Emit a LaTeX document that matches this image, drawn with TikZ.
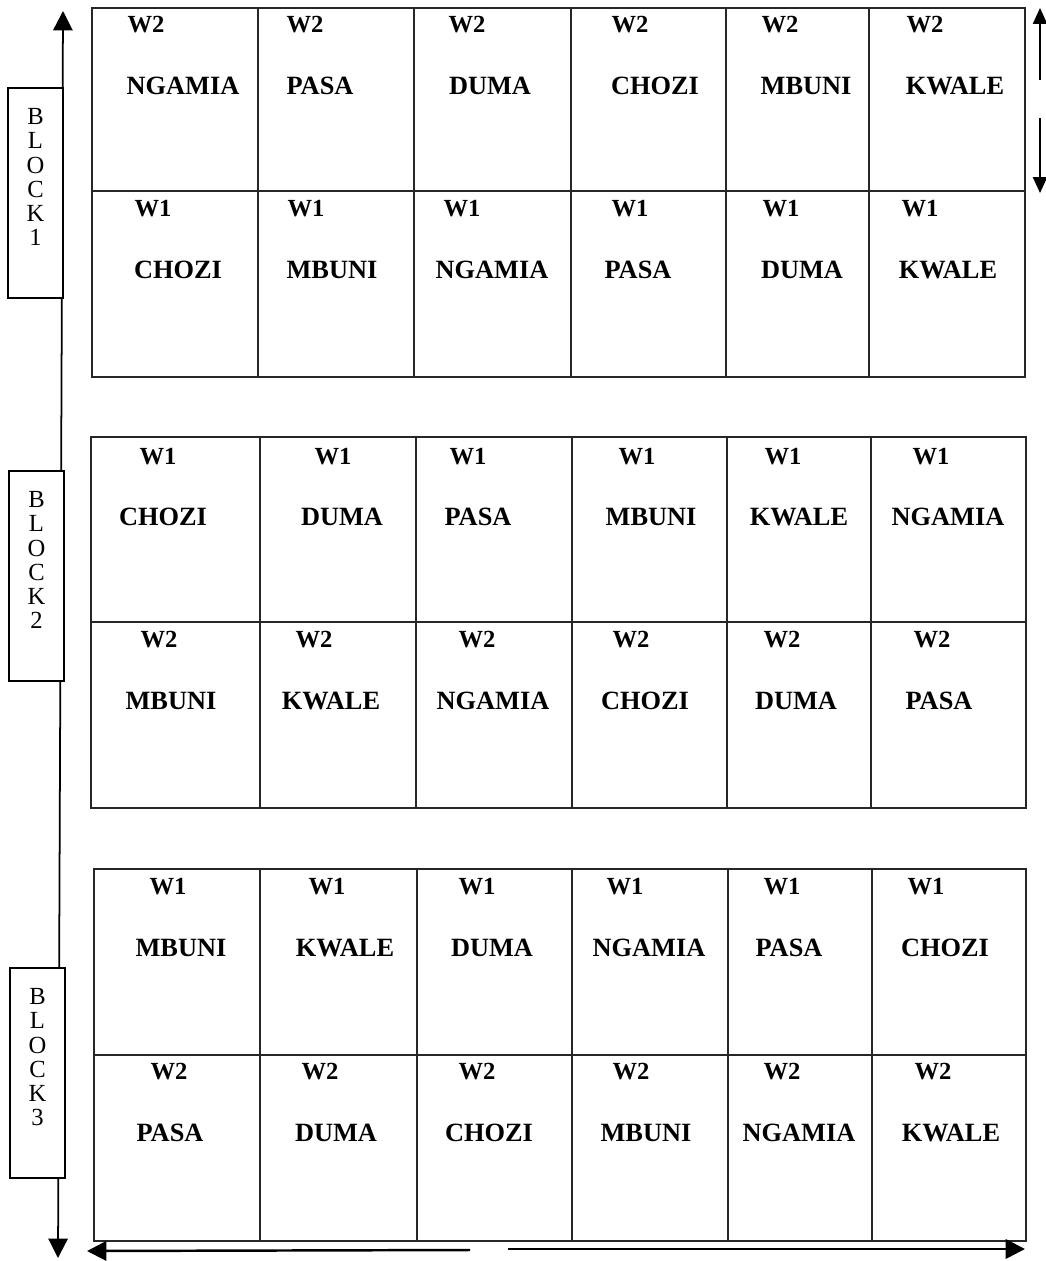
\documentclass[tikz,border=0pt]{standalone}
\usepackage{fontspec}
\setmainfont{Liberation Serif}
\usepackage{tikz}
\usetikzlibrary{arrows.meta, positioning}

\begin{document}
\begin{tikzpicture}[
        x=0.02cm, y=-0.02cm,
        grid/.style={draw=black!85, line width=0.6pt},
        wlabel/.style={font=\fontsize{14}{16}\selectfont\bfseries, inner sep=0pt},
        plot/.style={font=\fontsize{15}{17}\selectfont\bfseries, inner sep=0pt},
        blockbox/.style={draw, line width=0.8pt, fill=white, minimum width=1.1cm,
                     minimum height=4.2cm, inner sep=0pt},
        blocktext/.style={align=center, inner sep=0pt, font=\fontsize{14}{13.8}\selectfont},
        arr/.style={-{Triangle[width=11pt,length=11pt]}, line width=1pt},
        twoarr/.style={{Triangle[width=11pt,length=11pt]}-{Triangle[width=11pt,length=11pt]}, line width=1pt},
        smallarr/.style={-{Triangle[width=8pt,length=9pt]}, line width=1pt}
      ]
      \useasboundingbox (0,0) rectangle (1045,1261);

      % Raster der drei Bloecke
      \draw[grid] (92,8) rectangle (1025,377);
      \draw[grid] (92,191) -- (1025,191);
      \foreach \x in {258,414,571,726,869} \draw[grid] (\x,8) -- (\x,377);

      \draw[grid] (91,437) rectangle (1026,808);
      \draw[grid] (91,622) -- (1026,622);
      \foreach \x in {260,416,572,727,871} \draw[grid] (\x,437) -- (\x,808);

      \draw[grid] (94,869) rectangle (1026,1241);
      \draw[grid] (94,1055) -- (1026,1055);
      \foreach \x in {260,417,572,728,872} \draw[grid] (\x,869) -- (\x,1241);

      % Block 1
      \foreach \wx/\nx/\name [count=\i] in {146/183/NGAMIA, 305/320/PASA, 467/490/DUMA,
                                            630/655/CHOZI, 780/806/MBUNI, 925/955/KWALE} {
        \node[wlabel] (a-w\i) at (\wx,25) {W2};
        \node[plot]   (a-p\i) at (\nx,86) {\name};
      }
      \foreach \wx/\nx/\name [count=\i] in {153/178/CHOZI, 306/332/MBUNI, 462/492/NGAMIA,
                                            630/638/PASA, 781/802/DUMA, 920/948/KWALE} {
        \node[wlabel] (b-w\i) at (\wx,209) {W1};
        \node[plot]   (b-p\i) at (\nx,270) {\name};
      }

      % Block 2
      \foreach \wx/\nx/\name [count=\i] in {158/163/CHOZI, 333/342/DUMA, 468/478/PASA,
                                            637/651/MBUNI, 783/799/KWALE, 931/948/NGAMIA} {
        \node[wlabel] (c-w\i) at (\wx,457) {W1};
        \node[plot]   (c-p\i) at (\nx,517) {\name};
      }
      \foreach \wx/\nx/\name [count=\i] in {159/171/MBUNI, 314/331/KWALE, 477/493/NGAMIA,
                                            631/645/CHOZI, 782/796/DUMA, 932/939/PASA} {
        \node[wlabel] (d-w\i) at (\wx,640) {W2};
        \node[plot]   (d-p\i) at (\nx,701) {\name};
      }

      % Block 3
      \foreach \wx/\nx/\name [count=\i] in {168/181/MBUNI, 327/345/KWALE, 477/492/DUMA,
                                            625/649/NGAMIA, 782/789/PASA, 926/945/CHOZI} {
        \node[wlabel] (e-w\i) at (\wx,887) {W1};
        \node[plot]   (e-p\i) at (\nx,948) {\name};
      }
      \foreach \wx/\nx/\name [count=\i] in {169/170/PASA, 320/336/DUMA, 477/489/CHOZI,
                                            631/646/MBUNI, 782/799/NGAMIA, 933/951/KWALE} {
        \node[wlabel] (f-w\i) at (\wx,1072) {W2};
        \node[plot]   (f-p\i) at (\nx,1133) {\name};
      }

      % Pfeile
      \coordinate (vtop) at (63,11);
      \coordinate (vbot) at (58,1258);
      \draw[twoarr] (vbot) -- (vtop);

      \coordinate (rup) at (1040,8);
      \coordinate (rupend) at (1040,80);
      \coordinate (rdown) at (1040,193);
      \coordinate (rdownend) at (1040,118);
      \draw[smallarr] (rupend) -- (rup);
      \draw[smallarr] (rdownend) -- (rdown);

      \coordinate (bleft) at (87,1251);
      \coordinate (bleftend) at (470,1250);
      \coordinate (bright) at (1025,1249);
      \coordinate (brightend) at (508,1249);
      \draw[arr, line width=1.4pt] (bleftend) -- (bleft);
      \draw[arr, line width=1.4pt] (brightend) -- (bright);

      % Blockbeschriftungen links
      \node[blockbox] (blk1) at (35.5,193) {};
      \node[blockbox] (blk2) at (36.5,576) {};
      \node[blockbox] (blk3) at (37.5,1073) {};
      \node[blocktext] (blk1-t) at ([yshift=9pt]blk1.center) {B\\L\\O\\C\\K\\1};
      \node[blocktext] (blk2-t) at ([yshift=9pt]blk2.center) {B\\L\\O\\C\\K\\2};
      \node[blocktext] (blk3-t) at ([yshift=9pt]blk3.center) {B\\L\\O\\C\\K\\3};
\end{tikzpicture}
\end{document}
